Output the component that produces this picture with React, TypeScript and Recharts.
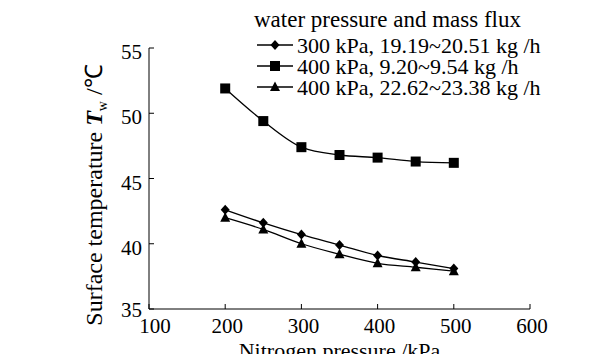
import React from 'react'
import { LineChart, Line, XAxis, YAxis } from 'recharts'

// ─── Data ─────────────────────────────────────────────────────────────────────

const NITROGEN_KPA = [200, 250, 300, 350, 400, 450, 500]

const T_300_LOW = [42.6, 41.6, 40.7, 39.9, 39.1, 38.6, 38.1]
const T_400_LOW = [51.9, 49.4, 47.4, 46.8, 46.6, 46.3, 46.2]
const T_400_HIGH = [42.0, 41.1, 40.0, 39.2, 38.5, 38.2, 37.9]

const SERIES_LABELS = [
  '300 kPa, 19.19~20.51 kg /h',
  '400 kPa, 9.20~9.54 kg /h',
  '400 kPa, 22.62~23.38 kg /h',
]

const X_TICKS = [100, 200, 300, 400, 500, 600]
const Y_TICKS = [35, 40, 45, 50, 55]

const data = NITROGEN_KPA.map((p, i) => ({
  p,
  a: T_300_LOW[i],
  b: T_400_LOW[i],
  c: T_400_HIGH[i],
}))

const FONT = '"Liberation Serif", "Times New Roman", Times, serif'
const TEXT_STYLE = { fontFamily: FONT, fontSize: 21, fill: '#000' }

// ─── Markers ──────────────────────────────────────────────────────────────────

type Shape = 'diamond' | 'square' | 'triangle'

function Marker({ cx, cy, shape }: { cx: number; cy: number; shape: Shape }) {
  if (shape === 'square') {
    return <rect x={cx - 5} y={cy - 5} width={10} height={10} fill="#000" />
  }
  if (shape === 'diamond') {
    return <polygon points={`${cx},${cy - 5} ${cx + 4.5},${cy} ${cx},${cy + 5} ${cx - 4.5},${cy}`} fill="#000" />
  }
  return <polygon points={`${cx},${cy - 5.5} ${cx + 5},${cy + 4} ${cx - 5},${cy + 4}`} fill="#000" />
}

const dotFor = (shape: Shape) => (props: any) => (
  <Marker key={`${shape}-${props.index}`} cx={props.cx} cy={props.cy} shape={shape} />
)

const SHAPES: Shape[] = ['diamond', 'square', 'triangle']

// ─── Legend (overlaid top-right) ──────────────────────────────────────────────

function ChartLegend() {
  return (
    <svg
      width={340}
      height={100}
      style={{ position: 'absolute', left: 250, top: 0, overflow: 'visible' }}
    >
      <text x={4} y={27} style={{ ...TEXT_STYLE, fontSize: 23 }}>
        water pressure and mass flux
      </text>
      {SERIES_LABELS.map((label, i) => {
        const y = 45 + i * 21
        return (
          <g key={label}>
            <line x1={7} x2={43} y1={y} y2={y} stroke="#000" strokeWidth={1.5} />
            <Marker cx={25} cy={y} shape={SHAPES[i]} />
            <text x={47} y={y + 8} style={{ ...TEXT_STYLE, fontSize: 22 }}>
              {label}
            </text>
          </g>
        )
      })}
    </svg>
  )
}

// ─── Axis bits ────────────────────────────────────────────────────────────────

function YLabel() {
  return (
    <text transform="translate(102,195) rotate(-90)" textAnchor="middle" style={{ ...TEXT_STYLE, fontSize: 24 }}>
      Surface temperature{' '}
      <tspan fontStyle="italic" fontWeight="bold">T</tspan>
      <tspan fontSize={14} dy={5}>w</tspan>
      <tspan dy={-5}> /℃</tspan>
    </text>
  )
}

function XTick({ x, y, payload }: any) {
  const dx = payload.value === 100 ? 6 : 2
  return (
    <text x={x + dx} y={y + 24} textAnchor="middle" style={TEXT_STYLE}>
      {payload.value}
    </text>
  )
}

function YTick({ x, y, payload }: any) {
  const dy = payload.value === 35 ? 8 : 11
  return (
    <text x={x - 7} y={y + dy} textAnchor="end" style={TEXT_STYLE}>
      {payload.value}
    </text>
  )
}

// ─── App ──────────────────────────────────────────────────────────────────────

export default function App() {
  return (
    <div style={{ position: 'absolute', left: 0, top: 0, width: 613, height: 354, background: '#fff' }}>
      <LineChart
        width={613}
        height={354}
        data={data}
        margin={{ top: 48, right: 83, bottom: 15, left: 0 }}
      >
        <XAxis
          dataKey="p"
          type="number"
          domain={[100, 600]}
          ticks={X_TICKS}
          height={30}
          stroke="#000"
          tick={<XTick />}
          tickSize={-5}
          tickMargin={5}
          label={{
            value: 'Nitrogen pressure /kPa',
            position: 'insideBottom',
            offset: -19,
            style: { ...TEXT_STYLE, fontSize: 22 },
          }}
        />
        <YAxis
          type="number"
          domain={[35, 55]}
          ticks={Y_TICKS}
          width={149}
          stroke="#000"
          tick={<YTick />}
          tickSize={-5}
          tickMargin={5}
          label={<YLabel />}
        />
        <Line
          type="monotone"
          dataKey="a"
          stroke="#000"
          strokeWidth={1.3}
          dot={dotFor('diamond')}
          isAnimationActive={false}
        />
        <Line
          type="monotone"
          dataKey="b"
          stroke="#000"
          strokeWidth={1.3}
          dot={dotFor('square')}
          isAnimationActive={false}
        />
        <Line
          type="monotone"
          dataKey="c"
          stroke="#000"
          strokeWidth={1.3}
          dot={dotFor('triangle')}
          isAnimationActive={false}
        />
      </LineChart>
      <ChartLegend />
    </div>
  )
}
